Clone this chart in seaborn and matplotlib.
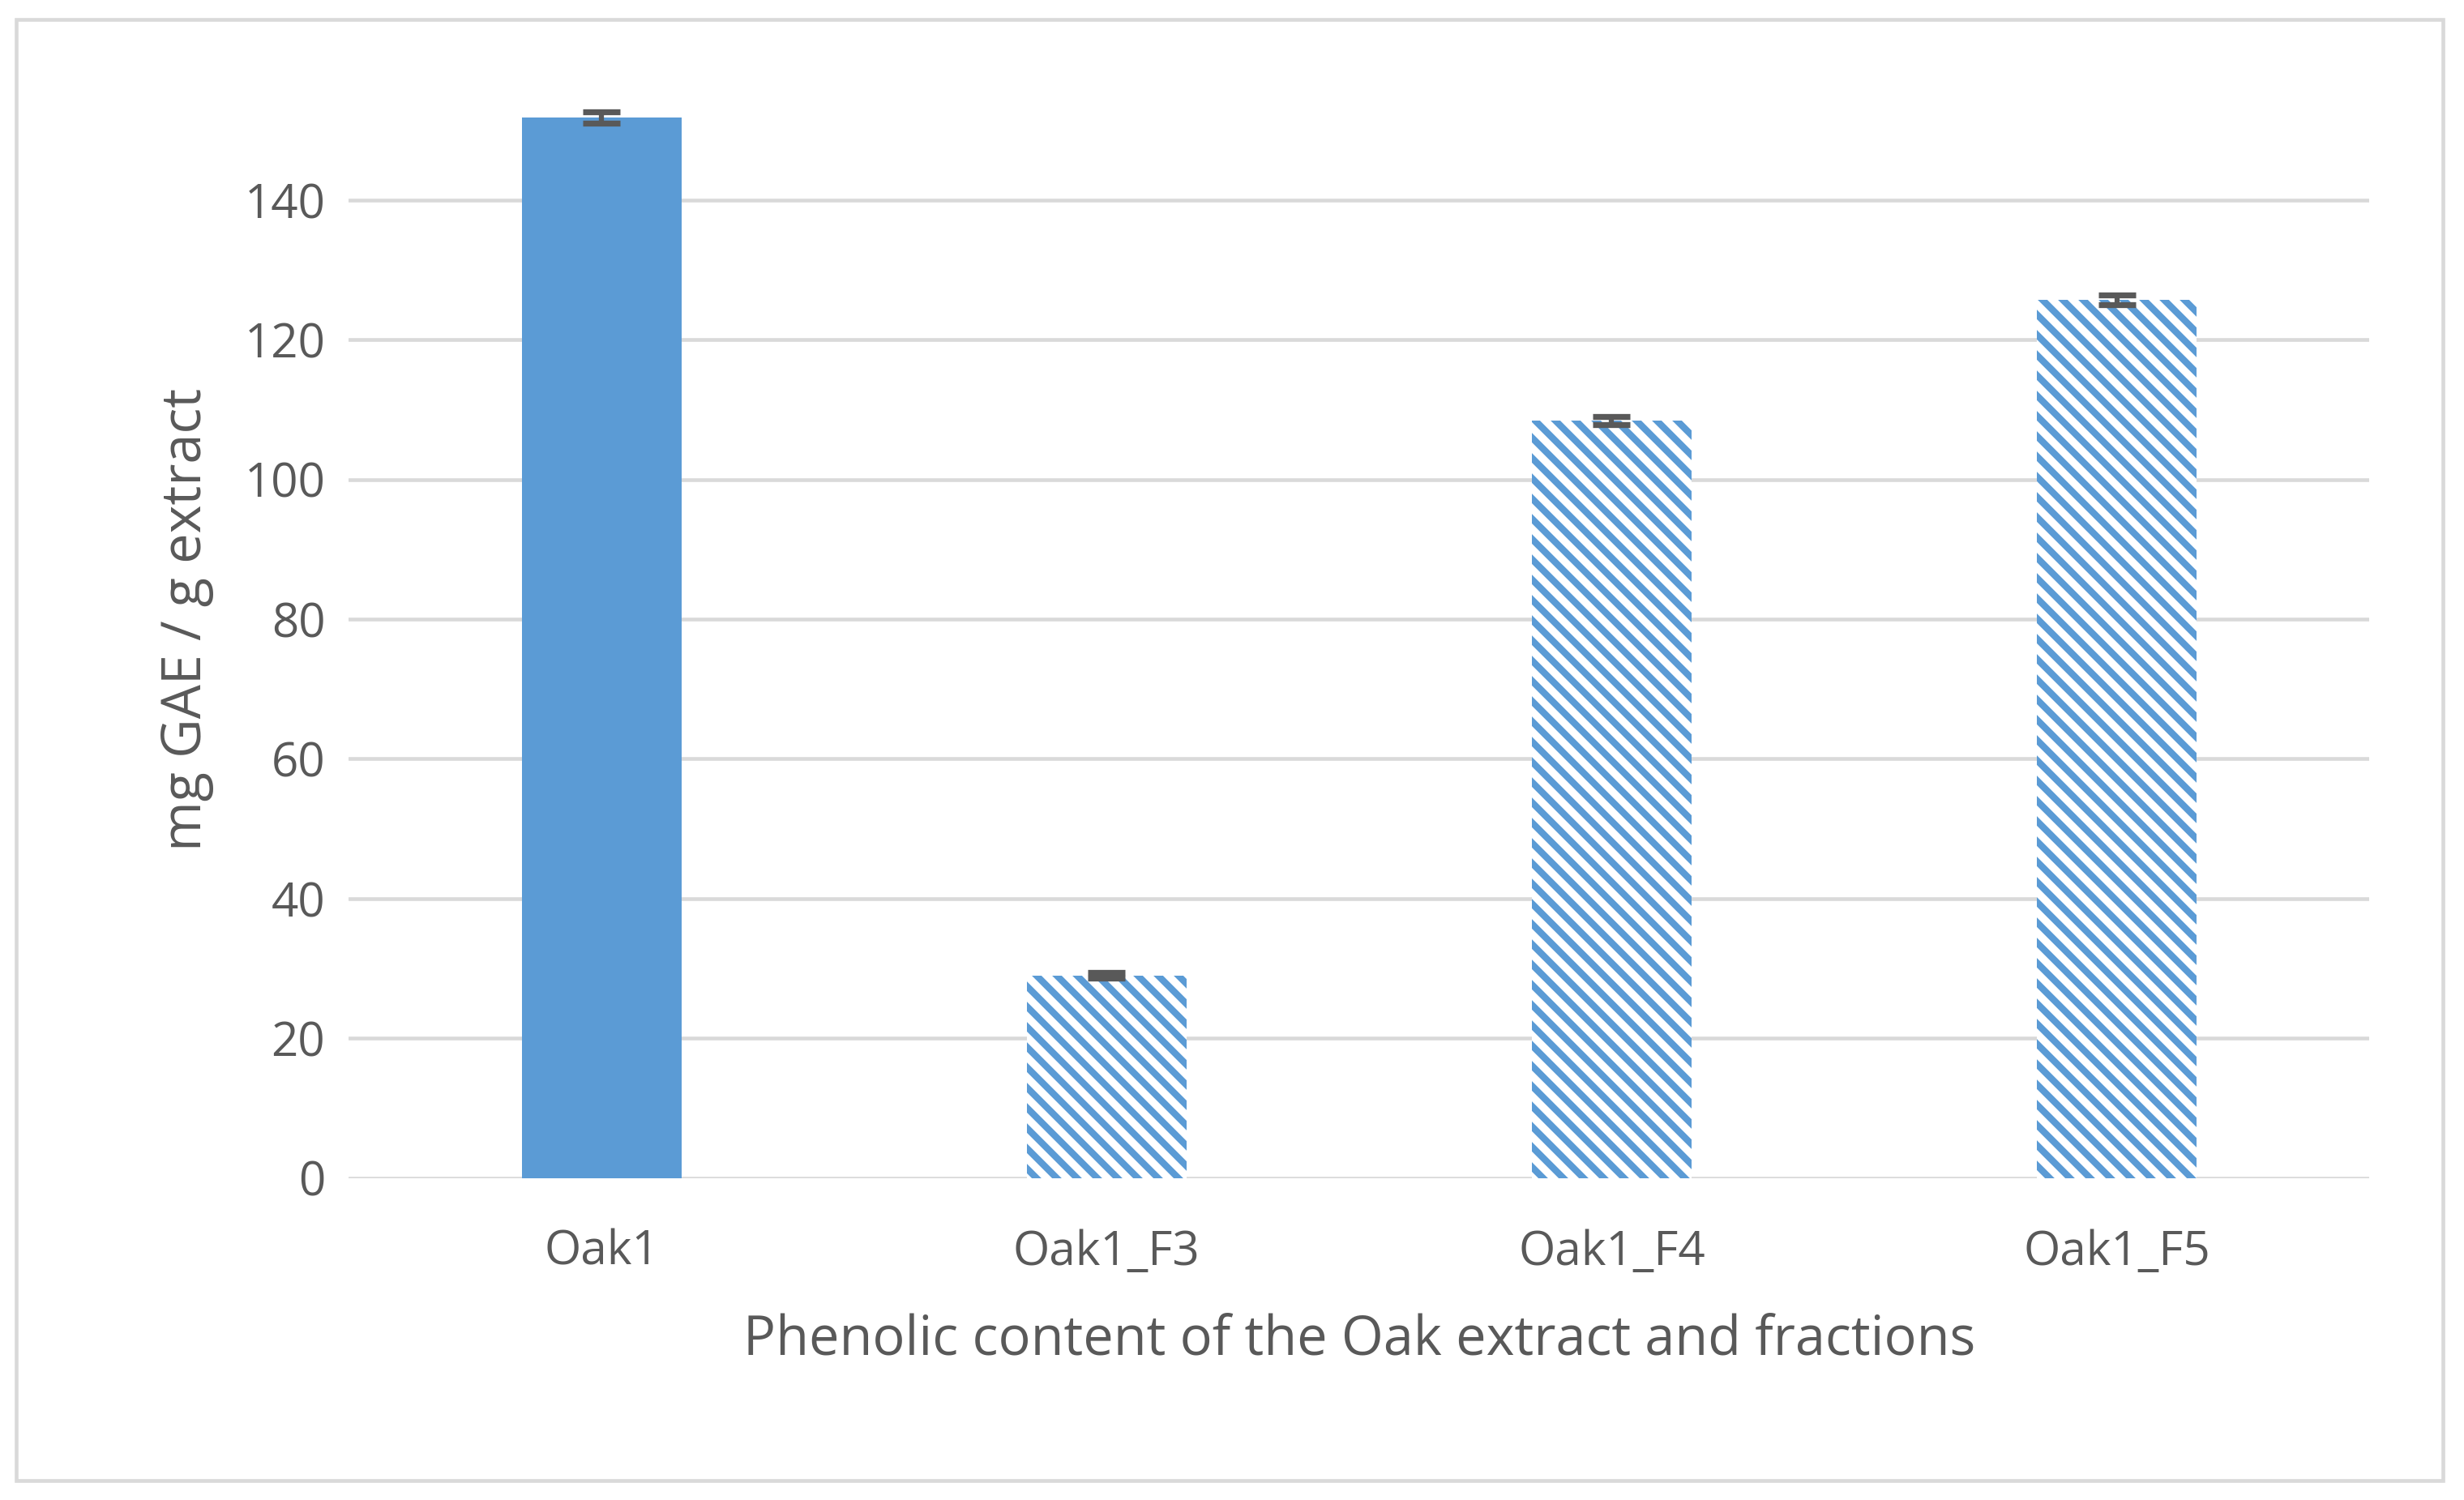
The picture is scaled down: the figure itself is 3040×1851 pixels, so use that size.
import matplotlib
matplotlib.use("Agg")
import matplotlib.pyplot as plt
import seaborn as sns
import numpy as np
import pandas as pd
from matplotlib.patches import Rectangle

categories = ["Oak1", "Oak1_F3", "Oak1_F4", "Oak1_F5"]
values = [151.8, 29.0, 108.4, 125.7]
errors = [0.8, 0.4, 0.6, 0.7]
yticks = [0, 20, 40, 60, 80, 100, 120, 140]

sns.set_theme(style="white")
plt.rcParams['font.family'] = ['Open Sans', 'DejaVu Sans']
plt.rcParams['hatch.linewidth'] = 4.0
plt.rcParams['hatch.color'] = '#5B9BD5'

dpi = 150
fig = plt.figure(figsize=(3040/dpi, 1851/dpi), dpi=dpi)
ax = fig.add_axes([0.1416, 0.2147, 0.82, 0.745])

df = pd.DataFrame({"cat": categories, "val": values})
sns.barplot(data=df, x="cat", y="val", ax=ax, color="#5B9BD5", width=0.316,
            saturation=1, errorbar=None)
for i, p in enumerate(ax.patches):
    p.set_linewidth(0)
    if i > 0:
        p.set_facecolor("white")
        p.set_hatch("\\\\")
        p.set_edgecolor("#5B9BD5")
ax.errorbar(range(len(categories)), values, yerr=errors, fmt="none",
            ecolor="#595959", elinewidth=3, capsize=11, capthick=3.5, zorder=5)

ax.set_ylim(0, 160)
ax.set_yticks(yticks)
ax.set_xlim(-0.5, 3.5)
ax.yaxis.grid(True, color="#D9D9D9", linewidth=2.2)
ax.set_axisbelow(True)
for s in ["top", "right", "left", "bottom"]:
    ax.spines[s].set_visible(False)
ax.tick_params(axis="both", colors="#595959", labelsize=28, length=0, pad=14)
ax.tick_params(axis="x", pad=30)
ax.set_xlabel("Phenolic content of the Oak extract and fractions", fontsize=32,
              color="#595959", labelpad=22)
ax.set_ylabel("mg GAE / g extract", fontsize=32, color="#595959", labelpad=18)

fig.patches.append(Rectangle((0.0065, 0.013), 0.985, 0.974, transform=fig.transFigure,
                             fill=False, edgecolor="#D9D9D9", linewidth=2.2))
fig.savefig("out.png", dpi=dpi, facecolor="white")
